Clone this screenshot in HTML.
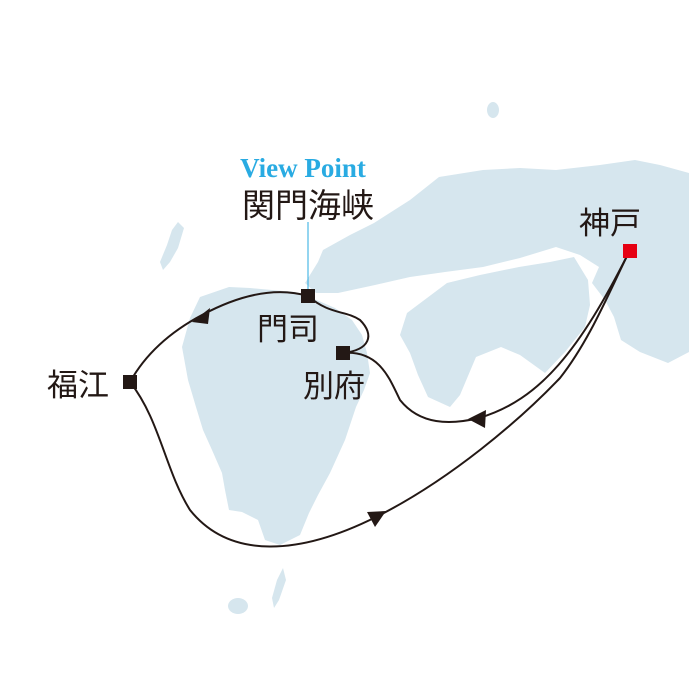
<!DOCTYPE html>
<html><head><meta charset="utf-8"><style>
html,body{margin:0;padding:0;background:#fff}
svg{display:block}
</style></head><body>
<svg width="689" height="689" viewBox="0 0 689 689" xmlns="http://www.w3.org/2000/svg">
<g fill="#d6e6ee">
<path d="M305,283 L318,262 323,250 350,235 374,223 410,200 439,177 483,170 520,168 556,170 600,165 635,160 660,165 689,173 L689,352 668,363 640,352 621,340 614,317 605,300 592,283 599,267 580,255 556,247 520,258 483,267 445,272 410,277 375,285 338,293 316,293 Z"/>
<path d="M407,313 L447,283 480,275 519,267 550,262 574,257 588,280 590,305 585,327 565,352 545,373 520,355 501,347 476,357 460,395 450,407 428,397 418,375 410,353 400,335 Z"/>
<path d="M312,298 L335,308 352,320 362,335 367,353 370,373 364,390 356,407 345,440 330,473 318,495 309,513 300,535 280,545 265,540 258,520 242,512 229,510 225,490 222,473 212,450 203,430 196,407 188,380 182,347 190,318 200,297 229,287 250,288 272,290 295,292 Z"/>
<path d="M178,222 L184,228 178,248 170,262 163,270 160,262 167,245 172,230 Z"/>
<path d="M283,568 L286,580 279,600 274,608 272,598 277,580 Z"/>
<ellipse cx="238" cy="606" rx="10" ry="8"/>
<ellipse cx="493" cy="110" rx="6" ry="8"/>
<ellipse cx="205" cy="300" rx="5" ry="4"/>
</g>
<g fill="none" stroke="#231815" stroke-width="2">
<path d="M308,296 C270,285 230,300 202,315 C170,332 145,355 130,382"/>
<path d="M308,296 C330,315 345,310 360,320 C375,335 370,350 343,353"/>
<path d="M343,353 C380,350 390,380 400,400 C420,425 450,425 479,418 C540,400 580,350 630,250"/>
<path d="M130,382 C160,420 165,470 190,510 C230,560 300,555 376,517 C450,480 520,420 560,378 C590,340 610,290 630,250"/>
</g>
<g fill="#231815">
<polygon points="192,322 210,308 208,324"/>
<polygon points="468,419 486,410 485,428"/>
<polygon points="386,511 367,512 375,527"/>
<rect x="301" y="289" width="14" height="14"/>
<rect x="336" y="346" width="14" height="14"/>
<rect x="123" y="375" width="14" height="14"/>
</g>
<rect x="623" y="244" width="14" height="14" fill="#e60012"/>
<line x1="308" y1="222" x2="308" y2="289" stroke="#29abe2" stroke-width="1"/>
<text x="303" y="177" style="font-family:'Liberation Serif',serif;font-size:27px;font-weight:bold" fill="#29abe2" text-anchor="middle">View Point</text>
<g style="font-family:'Liberation Sans','Noto Sans CJK JP',sans-serif" fill="#231815" text-anchor="middle">
<text x="308" y="217" font-size="33">関門海峡</text>
<text x="610" y="234" font-size="31">神戸</text>
<text x="288" y="340" font-size="31">門司</text>
<text x="334" y="397" font-size="31">別府</text>
<text x="78" y="396" font-size="31">福江</text>
</g>
</svg>
</body></html>
